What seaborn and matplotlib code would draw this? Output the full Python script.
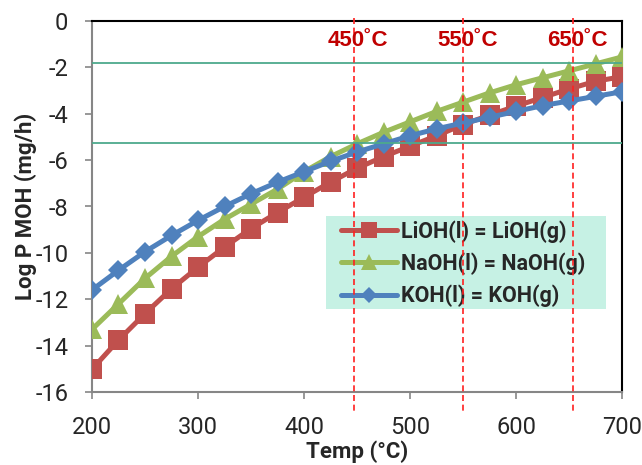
import matplotlib
matplotlib.use("Agg")
import matplotlib.pyplot as plt
import matplotlib.transforms as mtransforms
from matplotlib.lines import Line2D
from matplotlib.patches import Rectangle
import seaborn as sns
import pandas as pd

temps = [200, 225, 250, 275, 300, 325, 350, 375, 400, 425, 450,
         475, 500, 525, 550, 575, 600, 625, 650, 675, 700]
lioh = [-15.02, -13.76, -12.62, -11.55, -10.62, -9.75, -8.95, -8.26, -7.6, -6.95, -6.35,
        -5.85, -5.4, -4.95, -4.47, -4.06, -3.67, -3.3, -2.93, -2.6, -2.4]
naoh = [-13.3, -12.2, -11.1, -10.15, -9.3, -8.55, -7.9, -7.25, -6.5, -5.85, -5.3,
        -4.8, -4.35, -3.9, -3.5, -3.1, -2.75, -2.45, -2.15, -1.85, -1.55]
koh = [-11.6, -10.75, -9.95, -9.25, -8.6, -8.0, -7.45, -6.95, -6.5, -6.05, -5.65,
       -5.3, -4.95, -4.65, -4.4, -4.15, -3.9, -3.65, -3.45, -3.25, -3.05]
series_names = ["LiOH(l) = LiOH(g)", "NaOH(l) = NaOH(g)", "KOH(l) = KOH(g)"]
ref_temps = [447, 550, 654]
ref_labels = ["450˚C", "550˚C", "650˚C"]
hlines = [-1.82, -5.27]
xticks = [200, 300, 400, 500, 600, 700]
yticks = [0, -2, -4, -6, -8, -10, -12, -14, -16]

colors = ["#C0504D", "#9BBB59", "#4F81BD"]
markers = ["s", "^", "D"]
msizes = [14.5, 14.5, 10.5]
leg_msizes = [11, 11, 8.5]

df = pd.DataFrame({
    "Temp": temps * 3,
    "val": lioh + naoh + koh,
    "series": sum([[n] * len(temps) for n in series_names], []),
})

sns.set_style("white")
plt.rcParams["font.family"] = ["Roboto", "DejaVu Sans"]

W, H = 642, 465
fig = plt.figure(figsize=(W / 100, H / 100), dpi=100)
ax = fig.add_axes([92 / W, 1 - 392 / H, 530 / W, 371 / H])

for name, c, m, ms in zip(series_names, colors, markers, msizes):
    sub = df[df["series"] == name]
    sns.lineplot(data=sub, x="Temp", y="val", ax=ax, color=c, marker=m,
                 markersize=ms, markeredgewidth=0, linewidth=3.6, legend=False,
                 zorder=3)

ax.set_xlim(200, 700)
ax.set_ylim(-16, 0)
ax.set_xticks(xticks)
ax.set_xticklabels([str(t) for t in xticks])
ax.set_yticks(yticks)
ax.set_yticklabels([str(t) for t in yticks])
ax.tick_params(axis="both", labelsize=17, length=5, width=1.2, color="#868686",
               direction="out", pad=12, left=True, bottom=True)
for s in ["left", "bottom"]:
    ax.spines[s].set_color("#868686")
    ax.spines[s].set_linewidth(1.5)
for s in ["top", "right"]:
    ax.spines[s].set_color("black")
    ax.spines[s].set_linewidth(1.5)

ax.set_xlabel("Temp (°C)", fontsize=16, fontweight="bold", labelpad=1)
ax.set_ylabel("Log P MOH (mg/h)", fontsize=16, fontweight="bold", labelpad=-1)

# horizontal reference lines
for h in hlines:
    ax.axhline(h, color="#4DA98C", linewidth=1.3, zorder=7)

# vertical dashed temperature lines
trans = mtransforms.blended_transform_factory(ax.transData, ax.transAxes)
for t, lab in zip(ref_temps, ref_labels):
    ax.plot([t, t], [1.008, -0.052], transform=trans, color="#FF2020",
            linewidth=1.2, linestyle=(0, (3.6, 2.2)), clip_on=False, zorder=8)
    ax.text(t + 4, -0.85, lab, color="#C00000", fontsize=16, fontweight="bold",
            ha="center", va="center", family=["Liberation Sans", "DejaVu Sans"],
            zorder=9)

# legend background box
bg = Rectangle((326 / W, 1 - 309 / H), 280 / W, 93 / H, transform=fig.transFigure,
               facecolor="#C6F1E4", edgecolor="none", zorder=4.5, clip_on=False)
ax.add_patch(bg)

handles = [Line2D([0], [0], color=c, marker=m, markersize=ms, markeredgewidth=0,
                  linewidth=3.6) for c, m, ms in zip(colors, markers, leg_msizes)]
leg = ax.legend(handles, series_names, loc="upper left",
                bbox_to_anchor=(341 / W, 1 - 220 / H), bbox_transform=fig.transFigure,
                frameon=False, borderaxespad=0, borderpad=0, handlelength=2.6,
                handletextpad=0.2, labelspacing=0.45,
                prop={"family": ["Roboto", "DejaVu Sans"], "weight": "bold", "size": 15.5})
leg.set_zorder(5)

fig.savefig("out.png", dpi=100)
